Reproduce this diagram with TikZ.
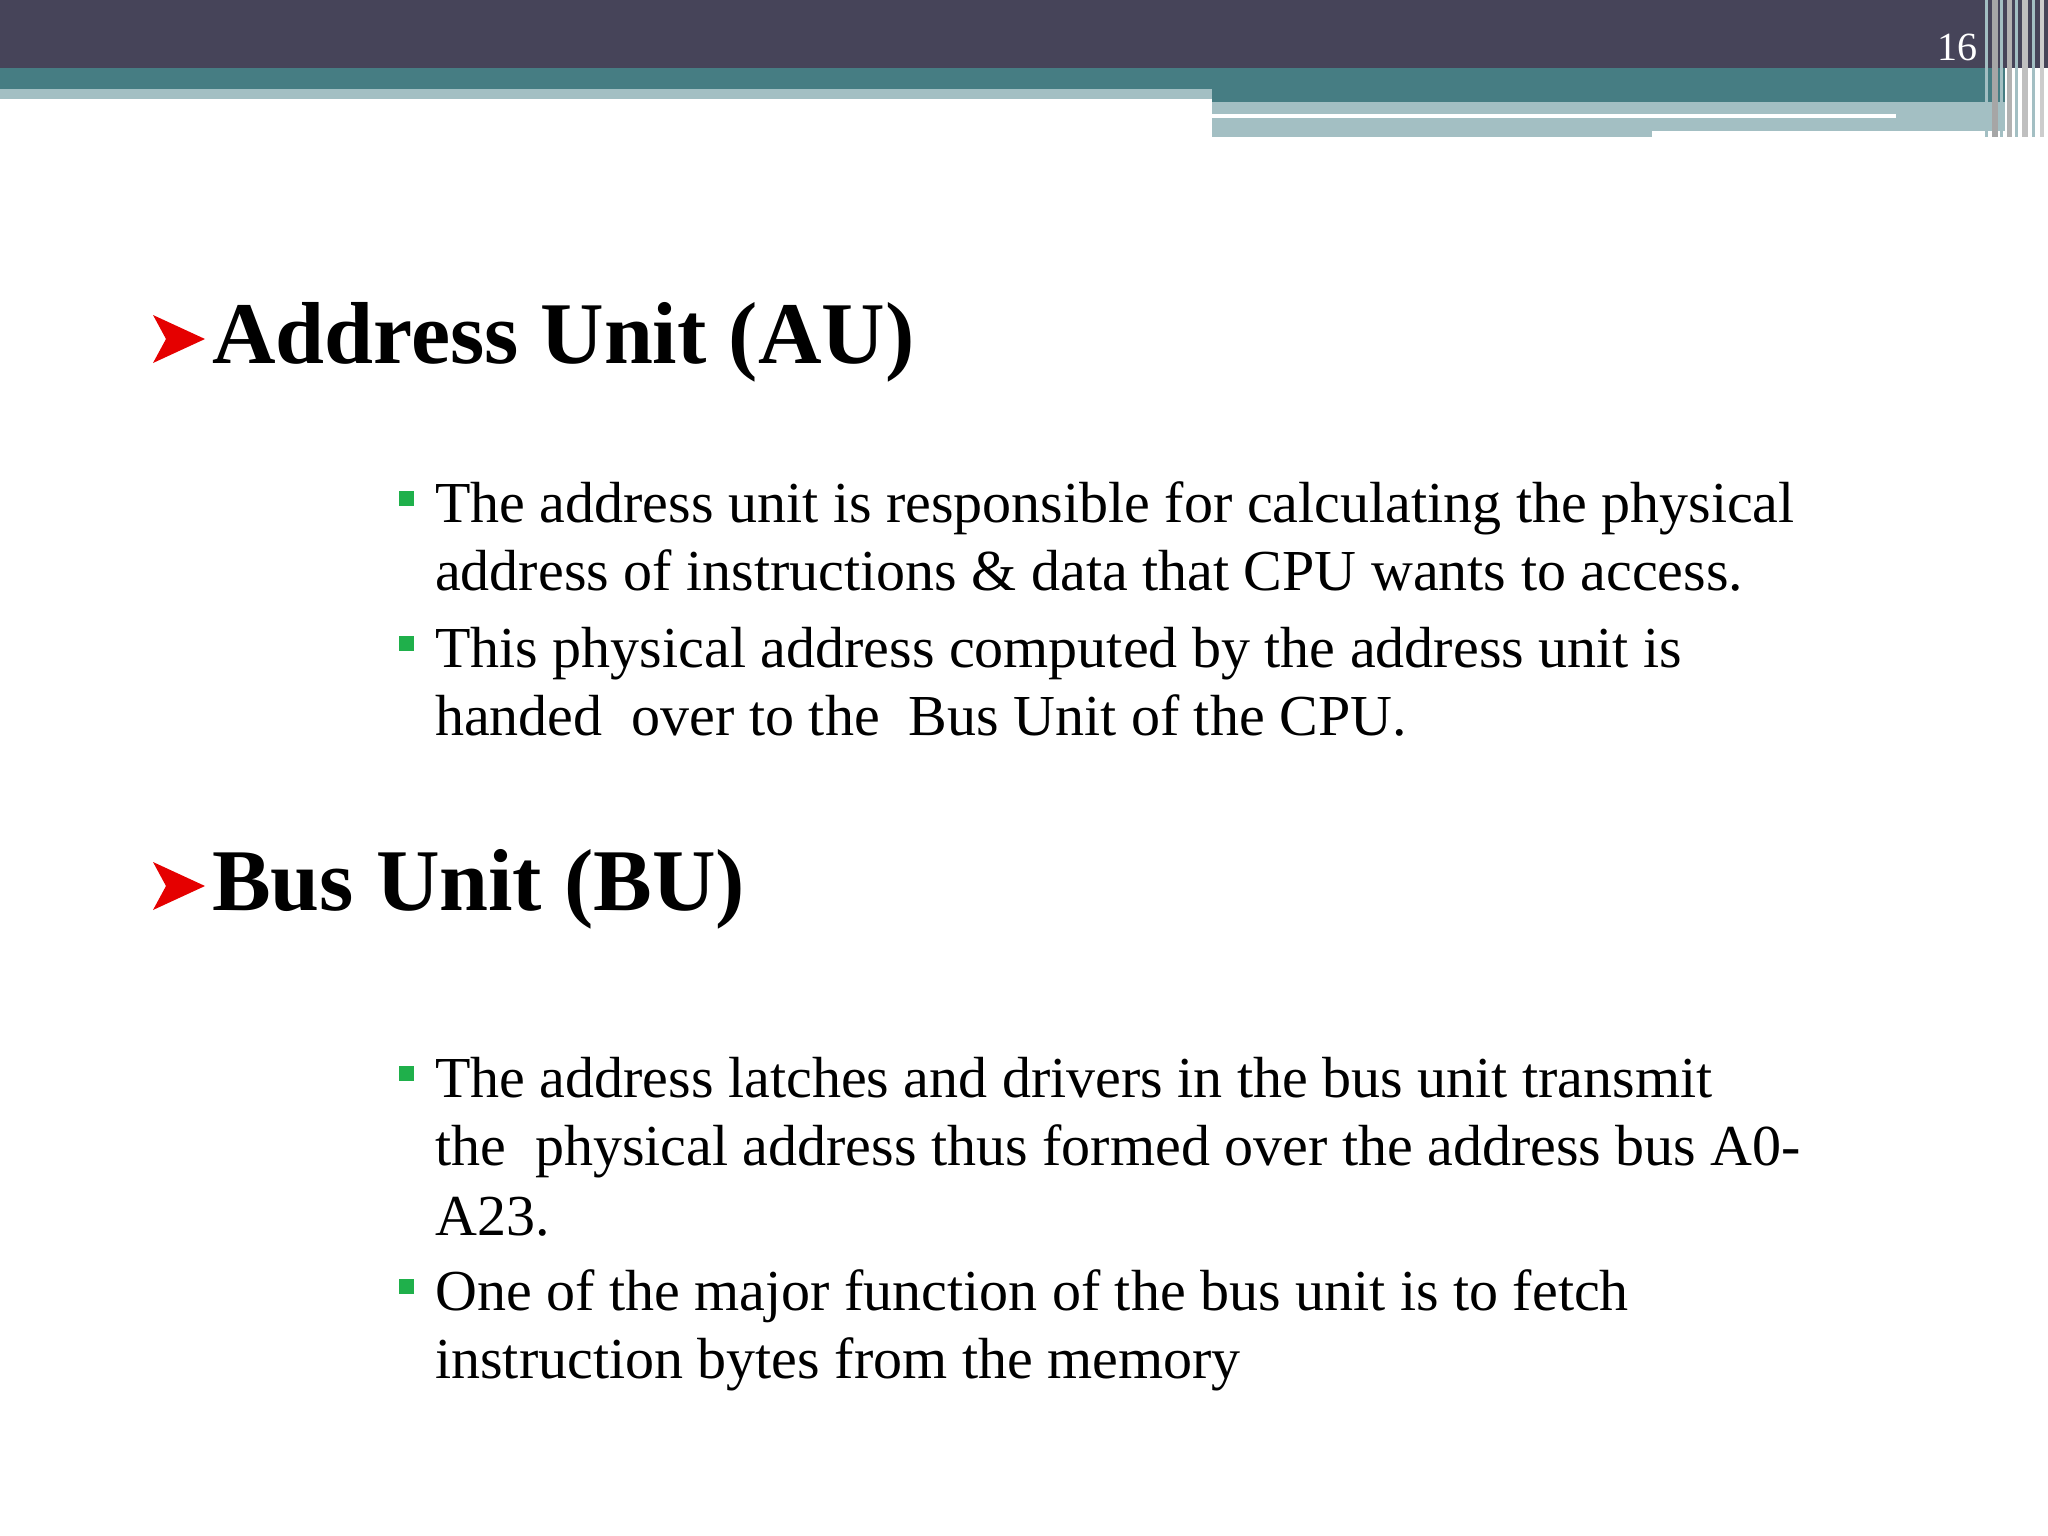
\documentclass[tikz,border=0pt]{standalone}
\usepackage{fontspec}
\setmainfont{Liberation Serif}
\definecolor{dark}{HTML}{464459}
\definecolor{teal}{HTML}{467D83}
\definecolor{light}{HTML}{A3BFC3}
\definecolor{bgreen}{HTML}{1FB04B}
\begin{document}
\begin{tikzpicture}[x=1pt,y=-1pt,
  body/.style={anchor=base west,inner sep=0,font=\fontsize{58}{58}\selectfont},
  head/.style={anchor=base west,inner sep=0,font=\fontsize{88}{88}\selectfont\bfseries},
  gb/.style={fill=bgreen,draw=none}]
\useasboundingbox (0,0) rectangle (2048,1536);
\fill[white] (0,0) rectangle (2048,1536);
% header
\fill[dark] (0,0) rectangle (2048,68);
\fill[teal] (0,68) rectangle (1212,89);
\fill[light] (0,89) rectangle (1212,99);
\fill[teal] (1212,68) rectangle (2005,102);
\fill[light] (1212,102) rectangle (2005,137);
\fill[white] (1212,114) rectangle (1896,118);
\fill[white] (1652,131) rectangle (2005,137);
\foreach \x/\w/\c in {1985/3/light,1992/6/gray!70,2000/3/light,2007/5/gray!60,2015/3/light,2022/6/gray!50,2032/3/light,2040/4/gray!40}
  \fill[\c] (\x,0) rectangle ++(\w,137);
\node[anchor=base east,inner sep=0,text=white,font=\fontsize{40}{40}\selectfont] (pg) at (1978,61) {16};
% headings
\foreach \y/\n in {363/a1,910/a2}{
  \fill[red!90!black] (153,\y-48) -- (205,\y-24) -- (153,\y) -- (166,\y-24) -- cycle;
}
\node[head] (h1) at (212,363) {Address Unit (AU)};
\node[head] (h2) at (212,910) {Bus Unit (BU)};
% bullets
\foreach \y in {522,667,1097,1310}
  \fill[gb] (399,\y-31) rectangle ++(15,15);
\node[body] (l1) at (435,522) {The address unit is responsible for calculating the physical};
\node[body] (l2) at (435,590) {address of instructions \& data that CPU wants to access.};
\node[body] (l3) at (435,667) {This physical address computed by the address unit is};
\node[body] (l4) at (435,735) {handed\ \ over to the\ \ Bus Unit of the CPU.};
\node[body] (l5) at (435,1097) {The address latches and drivers in the bus unit transmit};
\node[body] (l6) at (435,1165) {the\ \ physical address thus formed over the address bus A0-};
\node[body] (l7) at (435,1235) {A23.};
\node[body] (l8) at (435,1310) {One of the major function of the bus unit is to fetch};
\node[body] (l9) at (435,1378) {instruction bytes from the memory};
\end{tikzpicture}
\end{document}
